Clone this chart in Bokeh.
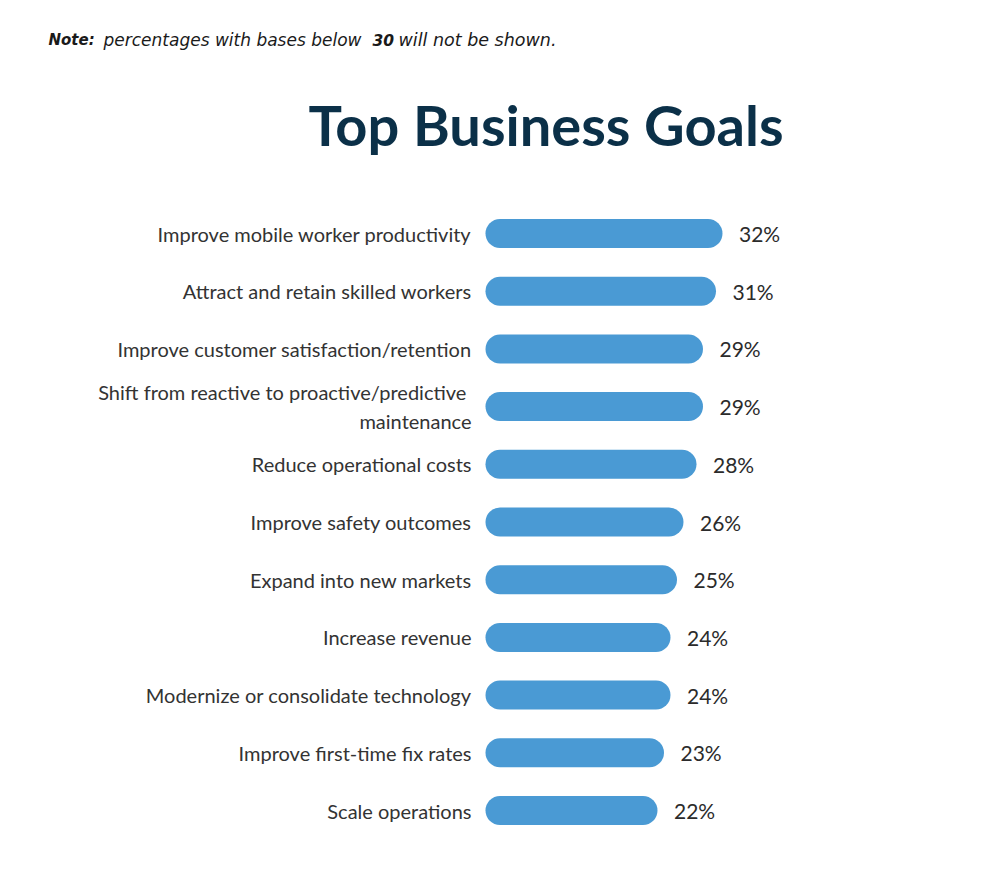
from bokeh.plotting import figure
from bokeh.models import Range1d, Label, ColumnDataSource
from bokeh.core.properties import value
from bokeh.embed import file_html
from bokeh.resources import INLINE

# ---- data ----
goals = [
    "Improve mobile worker productivity",
    "Attract and retain skilled workers",
    "Improve customer satisfaction/retention",
    "Shift from reactive  to proactive/predictive\nmaintenance",
    "Reduce operational costs",
    "Improve safety outcomes",
    "Expand into new markets",
    "Increase revenue",
    "Modernize or consolidate technology",
    "Improve first-time fix rates",
    "Scale operations",
]
shares = [32, 31, 29, 29, 28, 26, 25, 24, 24, 23, 22]
share_labels = [f"{v}%" for v in shares]

title_text = "Top Business Goals"
note_parts = [
    ("Note:", "bold italic"),
    ("percentages with bases below", "italic"),
    ("30", "bold italic"),
    ("will not be shown.", "italic"),
]

# ---- layout ----
W, H = 976, 866
PX_PER_UNIT = 6.5
ZERO_X = 499.5          # canvas x of value 0
ROW0_Y = 233.0          # canvas y of first row
ROW_STEP = 57.7

x0 = -ZERO_X / PX_PER_UNIT
x1 = x0 + W / PX_PER_UNIT
y_top = -ROW0_Y / ROW_STEP
y_bot = (H - ROW0_Y) / ROW_STEP

def cx(px):
    return x0 + px / PX_PER_UNIT

def cy(py):
    return y_top + py / ROW_STEP

p = figure(width=W, height=H, output_backend="svg", toolbar_location=None,
           x_range=Range1d(x0, x1), y_range=Range1d(y_bot, y_top),
           min_border=0, outline_line_color=None)
p.axis.visible = False
p.grid.visible = False
p.background_fill_color = "white"
p.border_fill_color = "white"

rows = list(range(len(goals)))
src = ColumnDataSource(dict(y=rows, v=shares, zero=[0] * len(rows), lab=share_labels))

BAR = "#4a9ad4"
p.segment(x0="zero", y0="y", x1="v", y1="y", source=src, line_width=29,
          line_color=BAR, line_cap="round")

p.text(x="v", y="y", text="lab", source=src, x_offset=31,
       text_align="left", text_baseline="middle", text_font=value("Lato"),
       text_font_size="21px", text_color="#2b2b2b")

# category labels (multi-line split)
lx, ly, lt, lo = [], [], [], []
LINE_H = 29
for i, g in enumerate(goals):
    parts = g.split("\n")
    n = len(parts)
    for k, part in enumerate(parts):
        lx.append(0)
        ly.append(i)
        lt.append(part)
        lo.append((k - (n - 1) / 2) * LINE_H)
csrc = ColumnDataSource(dict(x=lx, y=ly, t=lt, o=lo))
p.text(x="x", y="y", text="t", y_offset="o", source=csrc, x_offset=-28.5,
       text_align="right", text_baseline="middle", text_font=value("Lato"),
       text_font_size="20px", text_color="#333333")

# title
p.add_layout(Label(x=cx(545.5), y=cy(124), text=title_text, text_align="center",
                   text_baseline="alphabetic", text_font="Lato", text_font_style="bold",
                   text_font_size="56px", text_color="#0b3048"))

# note
note_x = [48, 103, 372, 398]
note_size = ["15px", "17px", "15.5px", "17.5px"]
for (t, style), nx, fs in zip(note_parts, note_x, note_size):
    p.add_layout(Label(x=cx(nx), y=cy(39.5), text=t, text_align="left",
                       text_baseline="alphabetic", text_font="DejaVu Sans",
                       text_font_style=style,
                       text_font_size=fs, text_color="#1a1a1a"))

open("out.html", "w").write(file_html(p, INLINE))
